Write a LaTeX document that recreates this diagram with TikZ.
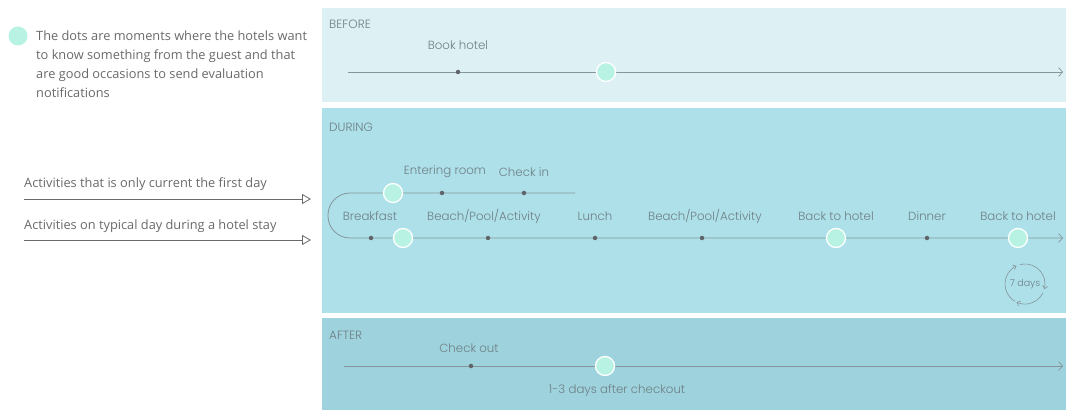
\documentclass[tikz,border=0pt]{standalone}
\usepackage{fontspec}
\setmainfont{Poppins Light}
\newfontfamily\notefont{Open Sans}
\usetikzlibrary{arrows.meta}

\definecolor{beforebg}{HTML}{DDF1F5}
\definecolor{duringbg}{HTML}{AEE0EA}
\definecolor{afterbg}{HTML}{9ED3DE}
\definecolor{mint}{HTML}{B8F2E2}
\definecolor{tline}{HTML}{85959A}
\definecolor{tdot}{HTML}{5E6468}
\definecolor{ptext}{HTML}{6E7F84}
\definecolor{ntext}{HTML}{6A6A6A}

\tikzset{
  panel/.style={fill=#1, draw=none},
  tl/.style={draw=tline, line width=0.8pt},
  tlarrow/.style={tl, -{Straight Barb[length=4pt, width=9pt, line width=0.7pt]}},
  bigdot/.style={circle, fill=mint, draw=white, line width=1.3pt, minimum size=19pt, inner sep=0pt},
  smalldot/.style={circle, fill=tdot, minimum size=4.5pt, inner sep=0pt},
  plabel/.style={font=\fontsize{11.8}{14}\selectfont, text=ptext, inner sep=0pt},
  ptitle/.style={plabel, anchor=west, font=\fontsize{12}{14}\selectfont},
  note/.style={font=\notefont\fontsize{12.8}{19}\selectfont, text=ntext, inner sep=0pt},
  keyarrow/.style={draw=ntext, line width=0.8pt, -{Triangle[open, length=9pt, width=10pt, line width=0.8pt]}}
}

\begin{document}
\begin{tikzpicture}[x=1pt, y=1pt]
\useasboundingbox (0,0) rectangle (1066,410);
\fill[white] (0,0) rectangle (1066,410);

% phase panels
\path[panel=beforebg] (322,308) rectangle (1066,402);
\path[panel=duringbg] (322,97) rectangle (1066,302);
\path[panel=afterbg] (322,0) rectangle (1066,92);

% legend
\node[bigdot, draw=none] (legdot) at (18,374) {};
\node[note, anchor=north west, align=left] (legtext) at (36,379)
  {The dots are moments where the hotels want\\
   to know something from the guest and that\\
   are good occasions to send evaluation\\
   notifications};

\node[note, anchor=base west] (firstday) at (24,222) {Activities that is only current the first day};
\coordinate (fa) at (24,211);
\coordinate (fb) at (311,211);
\draw[keyarrow] (fa) -- (fb);

\node[note, anchor=base west] (typday) at (24,180) {Activities on typical day during a hotel stay};
\coordinate (ta) at (24,170);
\coordinate (tb) at (311,170);
\draw[keyarrow] (ta) -- (tb);

% BEFORE
\node[ptitle] (before) at (329,386) {BEFORE};
\coordinate (bs) at (348,338);
\coordinate (be) at (1063,338);
\draw[tlarrow] (bs) -- (be);
\node[smalldot] (book) at (458,338) {};
\node[bigdot] (bnote) at (606,338) {};
\node[plabel] (booklbl) at (458,365) {Book hotel};

% DURING
\node[ptitle] (during) at (329,283) {DURING};
\coordinate (ue) at (575,217);
\coordinate (le) at (1063,172);
\draw[tlarrow, rounded corners=22pt] (ue) -- (328,217) -- (328,172) -- (le);

\node[bigdot] (unote) at (393,217) {};
\node[smalldot] (enter) at (442,217) {};
\node[smalldot] (checkin) at (524,217) {};
\node[plabel] at (445,238) {Entering room};
\node[plabel] at (524,238) {Check in};

\node[smalldot] (bf) at (371,172) {};
\node[bigdot] (lnote1) at (403,172) {};
\node[smalldot] (act1) at (488,172) {};
\node[smalldot] (lunch) at (595,172) {};
\node[smalldot] (act2) at (702,172) {};
\node[bigdot] (lnote2) at (836,172) {};
\node[smalldot] (dinner) at (927,172) {};
\node[bigdot] (lnote3) at (1018,172) {};

\node[plabel] at (370,194) {Breakfast};
\node[plabel] at (484,194) {Beach/Pool/Activity};
\node[plabel] at (595,194) {Lunch};
\node[plabel] at (705,194) {Beach/Pool/Activity};
\node[plabel] at (836,194) {Back to hotel};
\node[plabel] at (927,194) {Dinner};
\node[plabel] at (1018,194) {Back to hotel};

% repeat cycle
\coordinate (cyc) at (1025,126);
\node[plabel, font=\fontsize{9.5}{11}\selectfont] (days) at (cyc) {7 days};
\draw[draw=tline, line width=0.6pt, -{Straight Barb[length=3pt, width=5pt]}]
  ([shift={(240:20pt)}]cyc) arc[start angle=240, end angle=115, radius=20pt];
\draw[draw=tline, line width=0.6pt, -{Straight Barb[length=3pt, width=5pt]}]
  ([shift={(105:20pt)}]cyc) arc[start angle=105, end angle=-15, radius=20pt];
\draw[draw=tline, line width=0.6pt, -{Straight Barb[length=3pt, width=5pt]}]
  ([shift={(-25:20pt)}]cyc) arc[start angle=-25, end angle=-115, radius=20pt];

% AFTER
\node[ptitle] (after) at (329,75) {AFTER};
\coordinate (as) at (344,44);
\coordinate (ae) at (1063,44);
\draw[tlarrow] (as) -- (ae);
\node[smalldot] (checkout) at (471,44) {};
\node[bigdot] (anote) at (605,44) {};
\node[plabel] at (469,62) {Check out};
\node[plabel] at (617,19) {1-3 days after checkout};
\end{tikzpicture}
\end{document}
